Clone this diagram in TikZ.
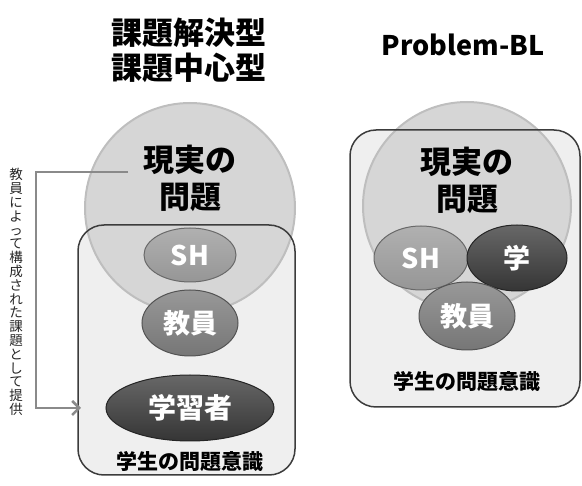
\documentclass[tikz,border=0pt]{standalone}
\usepackage{fontspec}
\setmainfont{Noto Sans CJK JP}
\usetikzlibrary{arrows.meta,positioning,shapes.geometric}
\definecolor{ballfill}{HTML}{D6D6D6}
\definecolor{ballrim}{HTML}{BEBEBE}
\definecolor{fieldfill}{HTML}{EFEFEF}
\definecolor{fieldline}{HTML}{3C3C3C}
\definecolor{shgray}{HTML}{969696}
\definecolor{tgray}{HTML}{767676}
\definecolor{lgray}{HTML}{353535}
\definecolor{arrowgray}{HTML}{8A8A8A}

\begin{document}
\begin{tikzpicture}[x=1pt,y=-1pt,every node/.style={font=\bfseries},
  bigball/.style={fill=ballfill,draw=ballrim,line width=2pt},
  field/.style={rounded corners=26pt,line width=1.5pt},
  actor/.style={ellipse,inner sep=0pt,text=white,draw=#1!70!black,line width=1pt,
    top color=#1!75!white,bottom color=#1,font=\fontsize{27}{29}\selectfont\bfseries},
  bigtext/.style={align=center,font=\fontsize{31}{37}\selectfont\bfseries},
  fieldtext/.style={font=\fontsize{21}{23}\selectfont\bfseries}]
\useasboundingbox (0,0) rectangle (582,486);
% left: kadai kaiketsu gata
\node[align=center,font=\fontsize{31}{35}\selectfont\bfseries] (titleL) at (189,50) {課題解決型\\課題中心型};
\fill[fieldfill,rounded corners=26pt] (78,225) rectangle (295,475);
\draw[bigball] (190,208) circle (105pt);
\draw[field,draw=fieldline] (78,225) rectangle (295,475);
\node[bigtext] (realL) at (190,178) {現実の\\問題};
\node[actor=shgray,minimum width=92pt,minimum height=54pt] (shL) at (190,255) {SH};
\node[actor=tgray,minimum width=96pt,minimum height=66pt] (teachL) at (190,323) {教員};
\node[actor=lgray,minimum width=168pt,minimum height=66pt,font=\fontsize{28}{30}\selectfont\bfseries] (learnL) at (190,408) {学習者};
\node[fieldtext] (awareL) at (190,462) {学生の問題意識};
% teacher-built task
\coordinate (fromreal) at (128,172);
\coordinate (tolearn) at (81,408);
\draw[arrowgray,line width=2.8pt,-{Straight Barb[length=7pt,width=14pt,line width=2.5pt]}] (fromreal) -- (36,172) |- (tolearn);
\node[align=center,font=\fontsize{13.5}{13.8}\selectfont,text=black!85] (provide) at (16,292)
  {教\\員\\に\\よ\\っ\\て\\構\\成\\さ\\れ\\た\\課\\題\\と\\し\\て\\提\\供};
% right: problem-based learning
\node[font=\fontsize{27}{30}\selectfont\bfseries] (titleR) at (463,45) {Problem-BL};
\fill[fieldfill,rounded corners=26pt] (350,130) rectangle (580,407);
\draw[bigball] (467,206) circle (104pt);
\draw[field,draw=fieldline] (350,130) rectangle (580,407);
\node[bigtext] (realR) at (467,180) {現実の\\問題};
\node[actor=shgray,minimum width=94pt,minimum height=64pt] (shR) at (421,258) {SH};
\node[actor=lgray,minimum width=100pt,minimum height=66pt] (learnR) at (517,258) {学};
\node[actor=tgray,minimum width=96pt,minimum height=68pt] (teachR) at (467,316) {教員};
\node[fieldtext] (awareR) at (467,382) {学生の問題意識};
\end{tikzpicture}
\end{document}
